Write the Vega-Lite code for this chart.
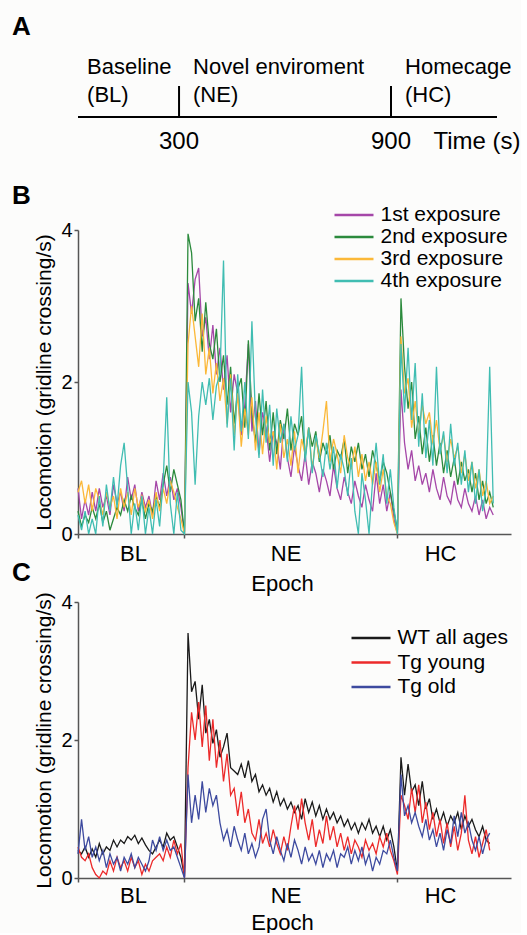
{
  "$schema": "https://vega.github.io/schema/vega-lite/v6.json",
  "background": "#fcfcfb",
  "padding": {"left": 12, "top": 14, "right": 0, "bottom": 0},
  "bounds": "flush",
  "spacing": 68,
  "resolve": {"scale": {"color": "independent"}},
  "config": {
    "font": "Liberation Sans",
    "view": {"stroke": null},
    "axis": {"grid": false, "domainColor": "#555", "domainWidth": 1.5, "tickColor": "#555", "tickWidth": 1.5, "tickSize": 4, "labelColor": "black", "titleColor": "black", "titleFontWeight": "normal"},
    "legend": {"title": null, "orient": "none", "padding": 0, "symbolType": "M-2,0H2", "symbolSize": 380, "symbolStrokeWidth": 2.5, "labelFontSize": 21, "labelColor": "black", "labelOffset": 15.5, "labelLimit": 300},
    "title": {"fontSize": 26, "fontWeight": "bold", "anchor": "start", "frame": "group", "baseline": "alphabetic", "color": "black"}
  },
  "datasets": {
    "exposure": [
      {"t":0,"e1":0.60,"e2":0.30,"e3":0.55,"e4":0.25},
      {"t":10,"e1":0.20,"e2":0.10,"e3":0.70,"e4":0.05},
      {"t":20,"e1":0.45,"e2":0.25,"e3":0.40,"e4":0.30},
      {"t":30,"e1":0.25,"e2":0.15,"e3":0.65,"e4":0.00},
      {"t":40,"e1":0.55,"e2":0.35,"e3":0.30,"e4":0.20},
      {"t":50,"e1":0.30,"e2":0.20,"e3":0.60,"e4":0.00},
      {"t":60,"e1":0.60,"e2":0.40,"e3":0.45,"e4":0.50},
      {"t":70,"e1":0.35,"e2":0.15,"e3":0.25,"e4":0.10},
      {"t":80,"e1":0.50,"e2":0.30,"e3":0.55,"e4":0.65},
      {"t":90,"e1":0.25,"e2":0.05,"e3":0.35,"e4":0.30},
      {"t":100,"e1":0.65,"e2":0.20,"e3":0.50,"e4":0.75},
      {"t":110,"e1":0.40,"e2":0.35,"e3":0.20,"e4":0.35},
      {"t":120,"e1":0.55,"e2":0.25,"e3":0.60,"e4":0.90},
      {"t":130,"e1":0.30,"e2":0.45,"e3":0.35,"e4":1.20},
      {"t":140,"e1":0.75,"e2":0.30,"e3":0.55,"e4":0.60},
      {"t":150,"e1":0.45,"e2":0.50,"e3":0.25,"e4":0.00},
      {"t":160,"e1":0.65,"e2":0.35,"e3":0.60,"e4":0.40},
      {"t":170,"e1":0.30,"e2":0.25,"e3":0.35,"e4":0.05},
      {"t":180,"e1":0.55,"e2":0.45,"e3":0.50,"e4":0.50},
      {"t":190,"e1":0.35,"e2":0.20,"e3":0.30,"e4":0.00},
      {"t":200,"e1":0.50,"e2":0.40,"e3":0.45,"e4":0.35},
      {"t":210,"e1":0.25,"e2":0.30,"e3":0.20,"e4":0.00},
      {"t":220,"e1":0.70,"e2":0.50,"e3":0.55,"e4":0.45},
      {"t":230,"e1":0.45,"e2":0.35,"e3":0.30,"e4":0.10},
      {"t":240,"e1":0.80,"e2":0.65,"e3":0.60,"e4":0.70},
      {"t":250,"e1":0.50,"e2":0.90,"e3":0.40,"e4":1.80},
      {"t":260,"e1":0.75,"e2":0.55,"e3":0.70,"e4":0.40},
      {"t":270,"e1":0.45,"e2":0.85,"e3":0.55,"e4":0.00},
      {"t":280,"e1":0.60,"e2":0.65,"e3":0.35,"e4":0.55},
      {"t":290,"e1":0.35,"e2":0.45,"e3":0.20,"e4":0.05},
      {"t":300,"e1":0.02,"e2":0.00,"e3":0.00,"e4":0.00},
      {"t":310,"e1":3.30,"e2":3.95,"e3":2.50,"e4":2.00},
      {"t":320,"e1":2.90,"e2":3.70,"e3":3.00,"e4":1.60},
      {"t":330,"e1":3.35,"e2":2.80,"e3":2.60,"e4":0.65},
      {"t":340,"e1":3.50,"e2":3.10,"e3":2.20,"e4":1.55},
      {"t":350,"e1":2.60,"e2":2.40,"e3":2.90,"e4":2.00},
      {"t":360,"e1":2.85,"e2":3.05,"e3":2.10,"e4":1.70},
      {"t":370,"e1":2.30,"e2":2.50,"e3":2.45,"e4":2.05},
      {"t":380,"e1":2.75,"e2":2.30,"e3":1.85,"e4":1.50},
      {"t":390,"e1":2.10,"e2":2.70,"e3":2.25,"e4":1.95},
      {"t":400,"e1":2.45,"e2":2.00,"e3":1.75,"e4":2.10},
      {"t":410,"e1":1.90,"e2":2.35,"e3":2.05,"e4":3.60},
      {"t":420,"e1":2.35,"e2":1.70,"e3":1.45,"e4":1.40},
      {"t":430,"e1":1.60,"e2":2.20,"e3":2.10,"e4":2.05},
      {"t":440,"e1":2.10,"e2":1.45,"e3":1.30,"e4":1.10},
      {"t":450,"e1":1.85,"e2":1.90,"e3":1.85,"e4":2.10},
      {"t":460,"e1":1.30,"e2":2.05,"e3":1.15,"e4":1.35},
      {"t":470,"e1":1.70,"e2":1.40,"e3":1.65,"e4":2.00},
      {"t":480,"e1":2.50,"e2":2.55,"e3":1.30,"e4":1.25},
      {"t":490,"e1":1.35,"e2":1.60,"e3":1.80,"e4":2.80},
      {"t":500,"e1":1.75,"e2":1.20,"e3":1.10,"e4":1.55},
      {"t":510,"e1":1.05,"e2":1.85,"e3":1.60,"e4":1.00},
      {"t":520,"e1":1.60,"e2":1.30,"e3":1.05,"e4":1.90},
      {"t":530,"e1":1.40,"e2":1.75,"e3":1.55,"e4":1.20},
      {"t":540,"e1":0.95,"e2":1.10,"e3":1.20,"e4":1.70},
      {"t":550,"e1":1.35,"e2":1.60,"e3":1.35,"e4":0.90},
      {"t":560,"e1":1.20,"e2":1.05,"e3":0.85,"e4":1.65},
      {"t":570,"e1":0.85,"e2":1.50,"e3":1.45,"e4":1.20},
      {"t":580,"e1":1.45,"e2":1.25,"e3":1.00,"e4":1.45},
      {"t":590,"e1":1.00,"e2":1.65,"e3":1.25,"e4":0.95},
      {"t":600,"e1":0.75,"e2":1.10,"e3":0.90,"e4":1.55},
      {"t":610,"e1":1.15,"e2":1.45,"e3":1.35,"e4":1.10},
      {"t":620,"e1":0.90,"e2":1.30,"e3":0.80,"e4":1.30},
      {"t":630,"e1":0.70,"e2":1.55,"e3":1.25,"e4":2.20},
      {"t":640,"e1":1.05,"e2":1.00,"e3":1.05,"e4":0.95},
      {"t":650,"e1":0.65,"e2":1.40,"e3":1.40,"e4":1.40},
      {"t":660,"e1":0.95,"e2":1.15,"e3":0.85,"e4":0.80},
      {"t":670,"e1":0.80,"e2":1.35,"e3":1.25,"e4":1.30},
      {"t":680,"e1":0.55,"e2":0.95,"e3":1.00,"e4":1.05},
      {"t":690,"e1":0.85,"e2":1.20,"e3":1.35,"e4":0.75},
      {"t":700,"e1":0.70,"e2":1.05,"e3":1.75,"e4":1.20},
      {"t":710,"e1":0.50,"e2":1.30,"e3":0.95,"e4":0.85},
      {"t":720,"e1":0.90,"e2":0.85,"e3":1.25,"e4":1.15},
      {"t":730,"e1":0.60,"e2":1.10,"e3":1.05,"e4":0.60},
      {"t":740,"e1":0.45,"e2":1.00,"e3":0.80,"e4":1.05},
      {"t":750,"e1":0.75,"e2":1.25,"e3":1.30,"e4":0.85},
      {"t":760,"e1":0.55,"e2":0.80,"e3":1.00,"e4":0.50},
      {"t":770,"e1":0.40,"e2":1.15,"e3":0.85,"e4":1.00},
      {"t":780,"e1":0.70,"e2":0.95,"e3":1.15,"e4":0.30},
      {"t":790,"e1":0.50,"e2":1.20,"e3":0.75,"e4":0.00},
      {"t":800,"e1":0.35,"e2":0.85,"e3":1.05,"e4":0.80},
      {"t":810,"e1":0.65,"e2":1.05,"e3":0.70,"e4":0.45},
      {"t":820,"e1":0.45,"e2":0.75,"e3":0.95,"e4":0.00},
      {"t":830,"e1":0.30,"e2":1.10,"e3":0.65,"e4":0.70},
      {"t":840,"e1":0.80,"e2":0.90,"e3":0.95,"e4":1.20},
      {"t":850,"e1":0.40,"e2":0.70,"e3":0.55,"e4":0.65},
      {"t":860,"e1":0.65,"e2":0.95,"e3":0.85,"e4":1.05},
      {"t":870,"e1":0.30,"e2":0.80,"e3":0.50,"e4":0.40},
      {"t":880,"e1":0.55,"e2":0.55,"e3":0.40,"e4":0.85},
      {"t":890,"e1":0.20,"e2":0.30,"e3":0.15,"e4":0.35},
      {"t":900,"e1":0.00,"e2":0.05,"e3":0.00,"e4":0.00},
      {"t":910,"e1":1.90,"e2":3.10,"e3":2.60,"e4":2.50},
      {"t":920,"e1":1.20,"e2":2.20,"e3":1.85,"e4":1.60},
      {"t":930,"e1":0.85,"e2":1.65,"e3":2.05,"e4":2.45},
      {"t":940,"e1":1.10,"e2":2.00,"e3":1.40,"e4":1.50},
      {"t":950,"e1":0.70,"e2":1.25,"e3":1.75,"e4":2.25},
      {"t":960,"e1":0.90,"e2":1.55,"e3":1.30,"e4":1.15},
      {"t":970,"e1":0.65,"e2":1.05,"e3":1.70,"e4":1.85},
      {"t":980,"e1":0.80,"e2":1.40,"e3":1.45,"e4":1.00},
      {"t":990,"e1":0.55,"e2":0.95,"e3":1.60,"e4":1.50},
      {"t":1000,"e1":0.85,"e2":1.30,"e3":1.20,"e4":0.90},
      {"t":1010,"e1":0.60,"e2":0.90,"e3":1.50,"e4":2.20},
      {"t":1020,"e1":0.45,"e2":1.20,"e3":1.10,"e4":1.05},
      {"t":1030,"e1":0.75,"e2":0.80,"e3":1.30,"e4":1.35},
      {"t":1040,"e1":0.50,"e2":1.10,"e3":0.95,"e4":0.80},
      {"t":1050,"e1":0.40,"e2":0.75,"e3":1.25,"e4":1.45},
      {"t":1060,"e1":0.70,"e2":1.00,"e3":1.00,"e4":0.90},
      {"t":1070,"e1":0.45,"e2":0.65,"e3":1.15,"e4":1.20},
      {"t":1080,"e1":0.35,"e2":0.95,"e3":0.80,"e4":0.65},
      {"t":1090,"e1":0.60,"e2":0.70,"e3":1.05,"e4":1.10},
      {"t":1100,"e1":0.40,"e2":0.85,"e3":0.70,"e4":0.55},
      {"t":1110,"e1":0.30,"e2":0.55,"e3":0.95,"e4":0.95},
      {"t":1120,"e1":0.50,"e2":0.80,"e3":0.60,"e4":0.40},
      {"t":1130,"e1":0.25,"e2":0.45,"e3":0.85,"e4":0.85},
      {"t":1140,"e1":0.45,"e2":0.70,"e3":0.50,"e4":0.30},
      {"t":1150,"e1":0.20,"e2":0.40,"e3":0.70,"e4":0.60},
      {"t":1160,"e1":0.35,"e2":0.55,"e3":0.40,"e4":2.20},
      {"t":1170,"e1":0.25,"e2":0.35,"e3":0.50,"e4":0.40}
    ],
    "genotype": [
      {"t":0,"wt":0.40,"young":0.45,"old":0.35},
      {"t":10,"wt":0.35,"young":0.30,"old":0.85},
      {"t":20,"wt":0.45,"young":0.25,"old":0.40},
      {"t":30,"wt":0.30,"young":0.35,"old":0.60},
      {"t":40,"wt":0.42,"young":0.15,"old":0.30},
      {"t":50,"wt":0.30,"young":0.05,"old":0.45},
      {"t":60,"wt":0.50,"young":0.00,"old":0.25},
      {"t":70,"wt":0.35,"young":0.10,"old":0.40},
      {"t":80,"wt":0.45,"young":0.05,"old":0.15},
      {"t":90,"wt":0.40,"young":0.25,"old":0.35},
      {"t":100,"wt":0.55,"young":0.10,"old":0.20},
      {"t":110,"wt":0.45,"young":0.30,"old":0.30},
      {"t":120,"wt":0.55,"young":0.15,"old":0.10},
      {"t":130,"wt":0.50,"young":0.25,"old":0.30},
      {"t":140,"wt":0.60,"young":0.10,"old":0.20},
      {"t":150,"wt":0.55,"young":0.30,"old":0.35},
      {"t":160,"wt":0.62,"young":0.15,"old":0.15},
      {"t":170,"wt":0.50,"young":0.25,"old":0.30},
      {"t":180,"wt":0.58,"young":0.05,"old":0.20},
      {"t":190,"wt":0.48,"young":0.20,"old":0.10},
      {"t":200,"wt":0.40,"young":0.10,"old":0.25},
      {"t":210,"wt":0.35,"young":0.25,"old":0.55},
      {"t":220,"wt":0.45,"young":0.30,"old":0.40},
      {"t":230,"wt":0.55,"young":0.35,"old":0.60},
      {"t":240,"wt":0.45,"young":0.25,"old":0.40},
      {"t":250,"wt":0.65,"young":0.45,"old":0.55},
      {"t":260,"wt":0.55,"young":0.30,"old":0.40},
      {"t":270,"wt":0.60,"young":0.55,"old":0.45},
      {"t":280,"wt":0.45,"young":0.35,"old":0.30},
      {"t":290,"wt":0.30,"young":0.50,"old":0.15},
      {"t":300,"wt":0.02,"young":0.00,"old":0.00},
      {"t":310,"wt":3.55,"young":1.60,"old":1.50},
      {"t":320,"wt":2.70,"young":2.40,"old":0.80},
      {"t":330,"wt":2.85,"young":2.00,"old":1.20},
      {"t":340,"wt":2.30,"young":2.55,"old":0.85},
      {"t":350,"wt":2.80,"young":1.90,"old":1.40},
      {"t":360,"wt":2.10,"young":2.50,"old":0.95},
      {"t":370,"wt":2.30,"young":1.70,"old":1.30},
      {"t":380,"wt":1.95,"young":2.30,"old":1.05},
      {"t":390,"wt":2.15,"young":1.60,"old":1.20},
      {"t":400,"wt":1.75,"young":2.00,"old":0.80},
      {"t":410,"wt":1.90,"young":1.40,"old":0.55},
      {"t":420,"wt":2.10,"young":1.80,"old":0.70},
      {"t":430,"wt":1.60,"young":1.20,"old":0.45},
      {"t":440,"wt":1.55,"young":1.30,"old":0.75},
      {"t":450,"wt":1.50,"young":0.90,"old":0.55},
      {"t":460,"wt":1.65,"young":1.25,"old":0.40},
      {"t":470,"wt":1.45,"young":0.80,"old":0.65},
      {"t":480,"wt":1.70,"young":1.00,"old":0.35},
      {"t":490,"wt":1.40,"young":0.65,"old":0.50},
      {"t":500,"wt":1.50,"young":0.55,"old":0.30},
      {"t":510,"wt":1.25,"young":0.85,"old":0.45},
      {"t":520,"wt":1.35,"young":0.50,"old":0.85},
      {"t":530,"wt":1.20,"young":0.65,"old":1.00},
      {"t":540,"wt":1.30,"young":0.45,"old":0.55},
      {"t":550,"wt":1.10,"young":0.70,"old":0.35},
      {"t":560,"wt":1.25,"young":0.50,"old":0.60},
      {"t":570,"wt":1.05,"young":0.35,"old":0.40},
      {"t":580,"wt":1.15,"young":0.60,"old":0.25},
      {"t":590,"wt":1.00,"young":0.40,"old":0.50},
      {"t":600,"wt":1.10,"young":0.75,"old":0.30},
      {"t":610,"wt":0.95,"young":1.05,"old":0.55},
      {"t":620,"wt":1.05,"young":0.70,"old":0.40},
      {"t":630,"wt":0.85,"young":1.15,"old":0.20},
      {"t":640,"wt":1.15,"young":0.80,"old":0.45},
      {"t":650,"wt":0.95,"young":0.55,"old":0.25},
      {"t":660,"wt":1.10,"young":0.85,"old":0.35},
      {"t":670,"wt":0.90,"young":0.45,"old":0.20},
      {"t":680,"wt":1.05,"young":0.70,"old":0.40},
      {"t":690,"wt":0.85,"young":0.50,"old":0.15},
      {"t":700,"wt":1.00,"young":0.90,"old":0.35},
      {"t":710,"wt":0.85,"young":0.55,"old":0.25},
      {"t":720,"wt":0.95,"young":0.75,"old":0.40},
      {"t":730,"wt":0.80,"young":0.45,"old":0.15},
      {"t":740,"wt":0.90,"young":0.65,"old":0.35},
      {"t":750,"wt":0.75,"young":0.40,"old":0.30},
      {"t":760,"wt":0.85,"young":0.60,"old":0.45},
      {"t":770,"wt":0.70,"young":0.35,"old":0.20},
      {"t":780,"wt":0.80,"young":0.55,"old":0.40},
      {"t":790,"wt":0.65,"young":0.45,"old":0.25},
      {"t":800,"wt":0.80,"young":0.30,"old":0.45},
      {"t":810,"wt":0.70,"young":0.55,"old":0.20},
      {"t":820,"wt":0.85,"young":0.40,"old":0.35},
      {"t":830,"wt":0.65,"young":0.50,"old":0.10},
      {"t":840,"wt":0.75,"young":0.35,"old":0.30},
      {"t":850,"wt":0.60,"young":0.60,"old":0.20},
      {"t":860,"wt":0.75,"young":0.45,"old":0.40},
      {"t":870,"wt":0.55,"young":0.65,"old":0.35},
      {"t":880,"wt":0.70,"young":0.40,"old":0.55},
      {"t":890,"wt":0.45,"young":0.25,"old":0.30},
      {"t":900,"wt":0.10,"young":0.05,"old":0.10},
      {"t":910,"wt":1.75,"young":1.20,"old":1.50},
      {"t":920,"wt":1.20,"young":1.05,"old":0.90},
      {"t":930,"wt":1.65,"young":0.85,"old":1.05},
      {"t":940,"wt":1.25,"young":1.30,"old":0.80},
      {"t":950,"wt":1.35,"young":0.95,"old":0.95},
      {"t":960,"wt":1.05,"young":1.35,"old":0.75},
      {"t":970,"wt":1.40,"young":0.80,"old":0.60},
      {"t":980,"wt":1.00,"young":1.10,"old":0.85},
      {"t":990,"wt":1.15,"young":0.70,"old":0.55},
      {"t":1000,"wt":0.85,"young":0.95,"old":0.70},
      {"t":1010,"wt":1.00,"young":0.60,"old":0.45},
      {"t":1020,"wt":0.80,"young":0.85,"old":0.65},
      {"t":1030,"wt":0.95,"young":0.50,"old":0.40},
      {"t":1040,"wt":0.75,"young":0.80,"old":0.70},
      {"t":1050,"wt":0.90,"young":0.45,"old":0.50},
      {"t":1060,"wt":0.80,"young":0.75,"old":0.90},
      {"t":1070,"wt":0.95,"young":0.40,"old":0.60},
      {"t":1080,"wt":0.70,"young":0.65,"old":0.95},
      {"t":1090,"wt":0.90,"young":1.20,"old":0.65},
      {"t":1100,"wt":0.75,"young":0.55,"old":0.80},
      {"t":1110,"wt":0.85,"young":0.35,"old":0.55},
      {"t":1120,"wt":0.70,"young":0.60,"old":0.40},
      {"t":1130,"wt":0.60,"young":0.30,"old":0.60},
      {"t":1140,"wt":0.75,"young":0.50,"old":0.35},
      {"t":1150,"wt":0.55,"young":0.70,"old":0.55},
      {"t":1160,"wt":0.50,"young":0.40,"old":0.65}
    ],
    "epochs": [
      {"epoch": "Baseline", "abbr": "(BL)", "start": 0},
      {"epoch": "Novel enviroment", "abbr": "(NE)", "start": 300},
      {"epoch": "Homecage", "abbr": "(HC)", "start": 900}
    ]
  },
  "vconcat": [
    {
      "width": 419,
      "height": 113,
      "title": {"text": "A", "dx": -66, "offset": 9},
      "data": {"name": "epochs"},
      "layer": [
        {
          "transform": [{"filter": "datum.start == 0"}],
          "mark": {"type": "rule", "strokeWidth": 2, "color": "black"},
          "encoding": {
            "y": {"datum": 0, "type": "quantitative", "scale": {"domain": [-45, 68]}, "axis": null}
          }
        },
        {
          "transform": [{"filter": "datum.start > 0"}],
          "mark": {"type": "rule", "strokeWidth": 2, "color": "black"},
          "encoding": {
            "x": {"field": "start", "type": "quantitative", "scale": {"domain": [14, 1200]}, "axis": null},
            "y": {"datum": 0, "type": "quantitative", "scale": {"domain": [-45, 68]}, "axis": null},
            "y2": {"datum": 31}
          }
        },
        {
          "mark": {"type": "text", "align": "left", "baseline": "alphabetic", "dx": 14, "fontSize": 22, "color": "black"},
          "encoding": {
            "x": {"field": "start", "type": "quantitative", "scale": {"domain": [14, 1200]}, "axis": null},
            "y": {"datum": 43, "type": "quantitative", "scale": {"domain": [-45, 68]}, "axis": null},
            "text": {"field": "epoch"}
          }
        },
        {
          "mark": {"type": "text", "align": "left", "baseline": "alphabetic", "dx": 14, "fontSize": 22, "color": "black"},
          "encoding": {
            "x": {"field": "start", "type": "quantitative", "scale": {"domain": [14, 1200]}, "axis": null},
            "y": {"datum": 15, "type": "quantitative", "scale": {"domain": [-45, 68]}, "axis": null},
            "text": {"field": "abbr"}
          }
        },
        {
          "transform": [{"filter": "datum.start > 0"}],
          "mark": {"type": "text", "align": "center", "baseline": "alphabetic", "fontSize": 24, "color": "black"},
          "encoding": {
            "x": {"field": "start", "type": "quantitative", "scale": {"domain": [14, 1200]}, "axis": null},
            "y": {"datum": -32, "type": "quantitative", "scale": {"domain": [-45, 68]}, "axis": null},
            "text": {"field": "start"}
          }
        },
        {
          "transform": [{"filter": "datum.start == 0"}],
          "mark": {"type": "text", "align": "left", "baseline": "alphabetic", "fontSize": 24, "color": "black", "text": "Time (s)"},
          "encoding": {
            "x": {"datum": 1020, "type": "quantitative", "scale": {"domain": [14, 1200]}, "axis": null},
            "y": {"datum": -32, "type": "quantitative", "scale": {"domain": [-45, 68]}, "axis": null}
          }
        }
      ]
    },
    {
      "width": 433,
      "height": 304,
      "title": {"text": "B", "dx": -66, "offset": -5},
      "data": {"name": "exposure"},
      "transform": [{"fold": ["e1", "e2", "e3", "e4"], "as": ["series", "value"]}],
      "mark": {"type": "line", "strokeWidth": 1.3},
      "encoding": {
        "x": {
          "field": "t", "type": "quantitative",
          "scale": {"domain": [0, 1220], "nice": false},
          "axis": {
            "values": [0, 155, 300, 585, 900, 1020],
            "labelExpr": "datum.value == 155 ? 'BL' : datum.value == 585 ? 'NE' : datum.value == 1020 ? 'HC' : ''",
            "tickOpacity": {"condition": {"test": "datum.value == 155 || datum.value == 585 || datum.value == 1020", "value": 0}, "value": 1},
            "labelFontSize": 22, "labelPadding": 5, "labelOverlap": false, "labelFlush": false,
            "title": "Epoch", "titleFontSize": 22, "titlePadding": 9, "titleX": 204
          }
        },
        "y": {
          "field": "value", "type": "quantitative",
          "scale": {"domain": [0, 4], "nice": false},
          "axis": {"values": [0, 2, 4], "labelFontSize": 20, "labelPadding": 2, "title": "Locomotion (gridline crossing/s)", "titleFontSize": 21, "titlePadding": 6}
        },
        "color": {
          "field": "series", "type": "nominal",
          "scale": {"domain": ["e1", "e2", "e3", "e4"], "range": ["#a547a8", "#2b8a3c", "#fbb838", "#40bdb2"]},
          "legend": {
            "legendX": 265, "legendY": -26, "rowPadding": 1,
            "labelExpr": "{'e1': '1st exposure', 'e2': '2nd exposure', 'e3': '3rd exposure', 'e4': '4th exposure'}[datum.label]"
          }
        }
      }
    },
    {
      "width": 433,
      "height": 276,
      "title": {"text": "C", "dx": -66, "offset": 6},
      "data": {"name": "genotype"},
      "transform": [{"fold": ["wt", "young", "old"], "as": ["series", "value"]}],
      "mark": {"type": "line", "strokeWidth": 1.3},
      "encoding": {
        "x": {
          "field": "t", "type": "quantitative",
          "scale": {"domain": [0, 1220], "nice": false},
          "axis": {
            "values": [0, 155, 300, 585, 900, 1020],
            "labelExpr": "datum.value == 155 ? 'BL' : datum.value == 585 ? 'NE' : datum.value == 1020 ? 'HC' : ''",
            "tickOpacity": {"condition": {"test": "datum.value == 155 || datum.value == 585 || datum.value == 1020", "value": 0}, "value": 1},
            "labelFontSize": 22, "labelPadding": 3, "labelOverlap": false, "labelFlush": false,
            "title": "Epoch", "titleFontSize": 22, "titlePadding": 6, "titleX": 204
          }
        },
        "y": {
          "field": "value", "type": "quantitative",
          "scale": {"domain": [0, 4], "nice": false},
          "axis": {"values": [0, 2, 4], "labelFontSize": 20, "labelPadding": 2, "title": "Locomotion (gridline crossing/s)", "titleFontSize": 21, "titlePadding": 6}
        },
        "color": {
          "field": "series", "type": "nominal",
          "scale": {"domain": ["wt", "young", "old"], "range": ["#1a1a1a", "#ec2a2a", "#3d4a9f"]},
          "legend": {
            "legendX": 282, "legendY": 25, "rowPadding": 3.5,
            "labelExpr": "{'wt': 'WT all ages', 'young': 'Tg young', 'old': 'Tg old'}[datum.label]"
          }
        }
      }
    }
  ]
}
